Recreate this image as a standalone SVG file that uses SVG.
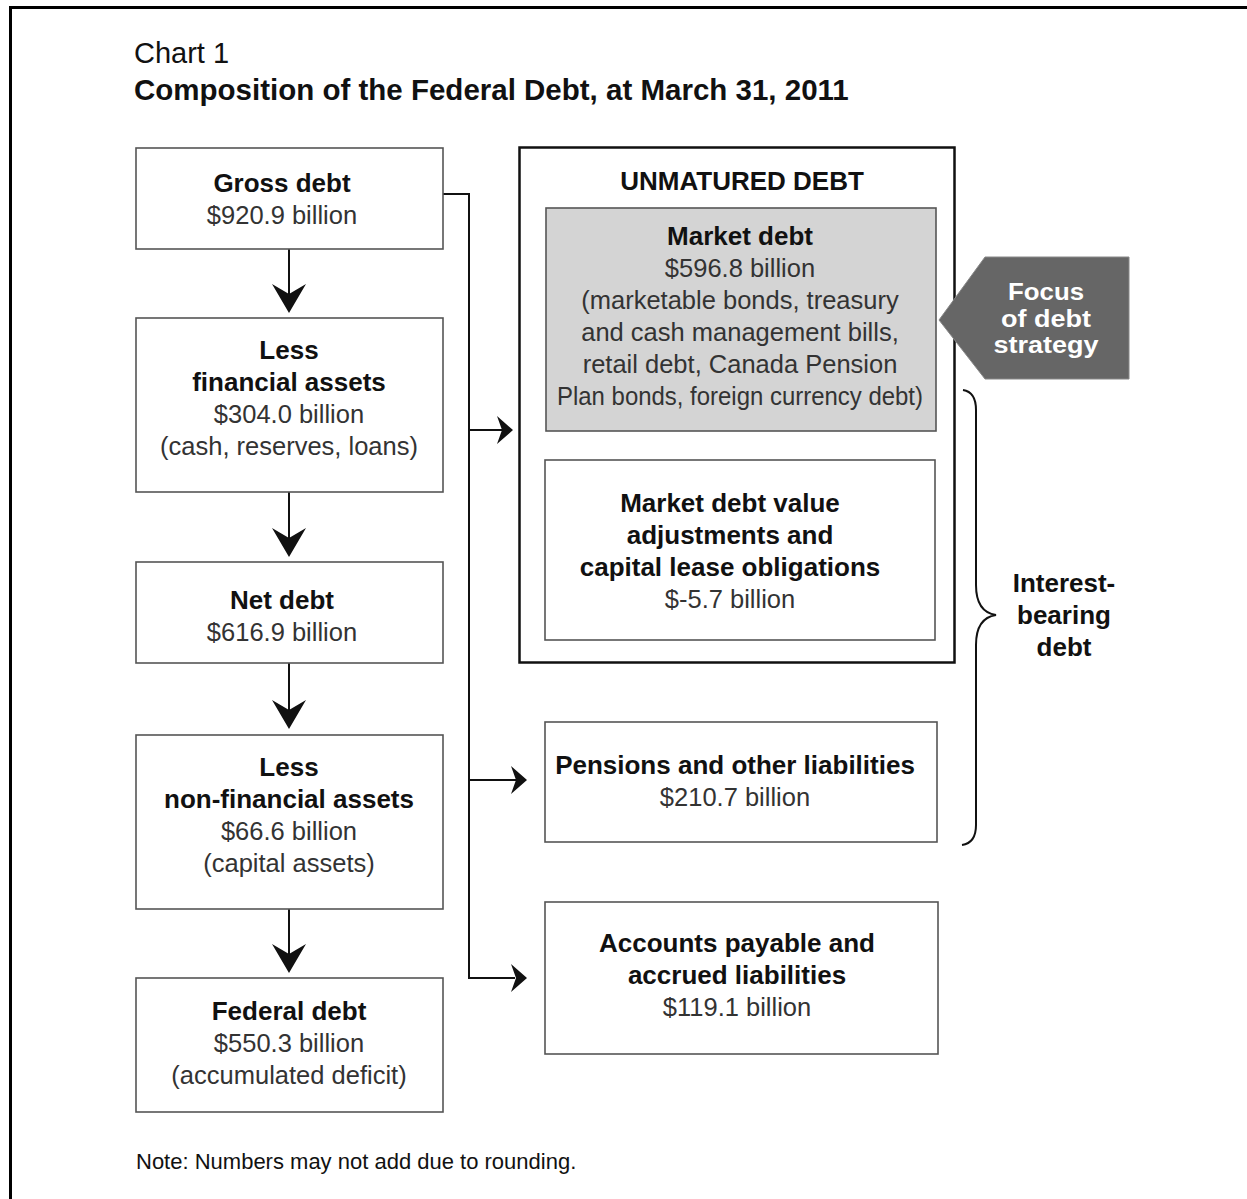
<svg xmlns="http://www.w3.org/2000/svg" width="1247" height="1199" viewBox="0 0 1247 1199">
<style>
.box{fill:#fff;stroke:#555;stroke-width:1.6}
.b{font-family:"Liberation Sans",Arial,sans-serif;font-weight:bold;font-size:26px;fill:#111;text-anchor:middle}
.r{font-family:"Liberation Sans",Arial,sans-serif;font-size:25.5px;fill:#333;text-anchor:middle}
.ln{fill:none;stroke:#111;stroke-width:2}
.ah{fill:#111}
.w{fill:#fff;font-size:23px}
</style>
<defs>
<path id="down" d="M0,0 L-17,-29 L0,-19 L17,-29 Z"/>
<path id="right" d="M0,0 L-16,-14 L-11,0 L-16,14 Z"/>
</defs>
<rect x="10.5" y="7.5" width="1300" height="1300" fill="#fff" stroke="#000" stroke-width="3"/>
<text x="134" y="63" font-family="Liberation Sans,Arial,sans-serif" font-size="29" fill="#111">Chart 1</text>
<text x="134" y="100" font-family="Liberation Sans,Arial,sans-serif" font-size="29.5" font-weight="bold" fill="#111">Composition of the Federal Debt, at March 31, 2011</text>

<g id="connectors">
<line class="ln" x1="289" y1="249" x2="289" y2="300"/>
<use href="#down" class="ah" x="289" y="313"/>
<line class="ln" x1="289" y1="492" x2="289" y2="544"/>
<use href="#down" class="ah" x="289" y="557"/>
<line class="ln" x1="289" y1="663" x2="289" y2="716"/>
<use href="#down" class="ah" x="289" y="729"/>
<line class="ln" x1="289" y1="909" x2="289" y2="960"/>
<use href="#down" class="ah" x="289" y="973"/>
<polyline class="ln" points="443,194 469,194 469,978 515,978"/>
<line class="ln" x1="469" y1="430" x2="503" y2="430"/>
<use href="#right" class="ah" x="513" y="430"/>
<line class="ln" x1="469" y1="780" x2="517" y2="780"/>
<use href="#right" class="ah" x="527" y="780"/>
<use href="#right" class="ah" x="527" y="978"/>
</g>

<g id="gross-debt">
<rect class="box" x="136" y="148" width="307" height="101"/>
<text class="b" x="282" y="192">Gross debt</text>
<text class="r" x="282" y="224">$920.9 billion</text>
</g>
<g id="less-financial-assets">
<rect class="box" x="136" y="318" width="307" height="174"/>
<text class="b" x="289" y="359">Less</text>
<text class="b" x="289" y="391">financial assets</text>
<text class="r" x="289" y="423">$304.0 billion</text>
<text class="r" x="289" y="455">(cash, reserves, loans)</text>
</g>
<g id="net-debt">
<rect class="box" x="136" y="562" width="307" height="101"/>
<text class="b" x="282" y="609">Net debt</text>
<text class="r" x="282" y="641">$616.9 billion</text>
</g>
<g id="less-non-financial-assets">
<rect class="box" x="136" y="735" width="307" height="174"/>
<text class="b" x="289" y="776">Less</text>
<text class="b" x="289" y="808">non-financial assets</text>
<text class="r" x="289" y="840">$66.6 billion</text>
<text class="r" x="289" y="872">(capital assets)</text>
</g>
<g id="federal-debt">
<rect class="box" x="136" y="978" width="307" height="134"/>
<text class="b" x="289" y="1020">Federal debt</text>
<text class="r" x="289" y="1052">$550.3 billion</text>
<text class="r" x="289" y="1084">(accumulated deficit)</text>
</g>

<g id="unmatured-debt">
<rect x="519.5" y="147.5" width="435" height="515" fill="#fff" stroke="#111" stroke-width="2.5"/>
<text class="b" x="742" y="190">UNMATURED DEBT</text>
</g>
<g id="market-debt">
<rect x="546" y="208" width="390" height="223" fill="#d4d4d4" stroke="#555" stroke-width="1.6"/>
<text class="b" x="740" y="245">Market debt</text>
<text class="r" x="740" y="277">$596.8 billion</text>
<text class="r" x="740" y="309">(marketable bonds, treasury</text>
<text class="r" x="740" y="341">and cash management bills,</text>
<text class="r" x="740" y="373">retail debt, Canada Pension</text>
<text class="r" x="740" y="405" textLength="366" lengthAdjust="spacingAndGlyphs">Plan bonds, foreign currency debt)</text>
</g>
<g id="market-debt-adjustments">
<rect class="box" x="545" y="460" width="390" height="180"/>
<text class="b" x="730" y="512">Market debt value</text>
<text class="b" x="730" y="544">adjustments and</text>
<text class="b" x="730" y="576">capital lease obligations</text>
<text class="r" x="730" y="608">$-5.7 billion</text>
</g>
<g id="pensions">
<rect class="box" x="545" y="722" width="392" height="120"/>
<text class="b" x="735" y="774">Pensions and other liabilities</text>
<text class="r" x="735" y="806">$210.7 billion</text>
</g>
<g id="accounts-payable">
<rect class="box" x="545" y="902" width="393" height="152"/>
<text class="b" x="737" y="952">Accounts payable and</text>
<text class="b" x="737" y="984">accrued liabilities</text>
<text class="r" x="737" y="1016">$119.1 billion</text>
</g>

<g id="focus">
<polygon points="939,320 985,257 1129,257 1129,379 985,379" fill="#666" stroke="#888" stroke-width="1"/>
<text class="b w" x="1046" y="300" textLength="76" lengthAdjust="spacingAndGlyphs">Focus</text>
<text class="b w" x="1046" y="327" textLength="90" lengthAdjust="spacingAndGlyphs">of debt</text>
<text class="b w" x="1046" y="353" textLength="105" lengthAdjust="spacingAndGlyphs">strategy</text>
</g>

<g id="interest-bearing">
<path class="ln" d="M963,390 Q976,392 976,410 L976,585 Q976,612 996,615 Q976,618 976,645 L976,825 Q976,843 962,845"/>
<text class="b" x="1064" y="592">Interest-</text>
<text class="b" x="1064" y="624">bearing</text>
<text class="b" x="1064" y="656">debt</text>
</g>

<text x="136" y="1169" font-family="Liberation Sans,Arial,sans-serif" font-size="22" fill="#111">Note: Numbers may not add due to rounding.</text>
</svg>
